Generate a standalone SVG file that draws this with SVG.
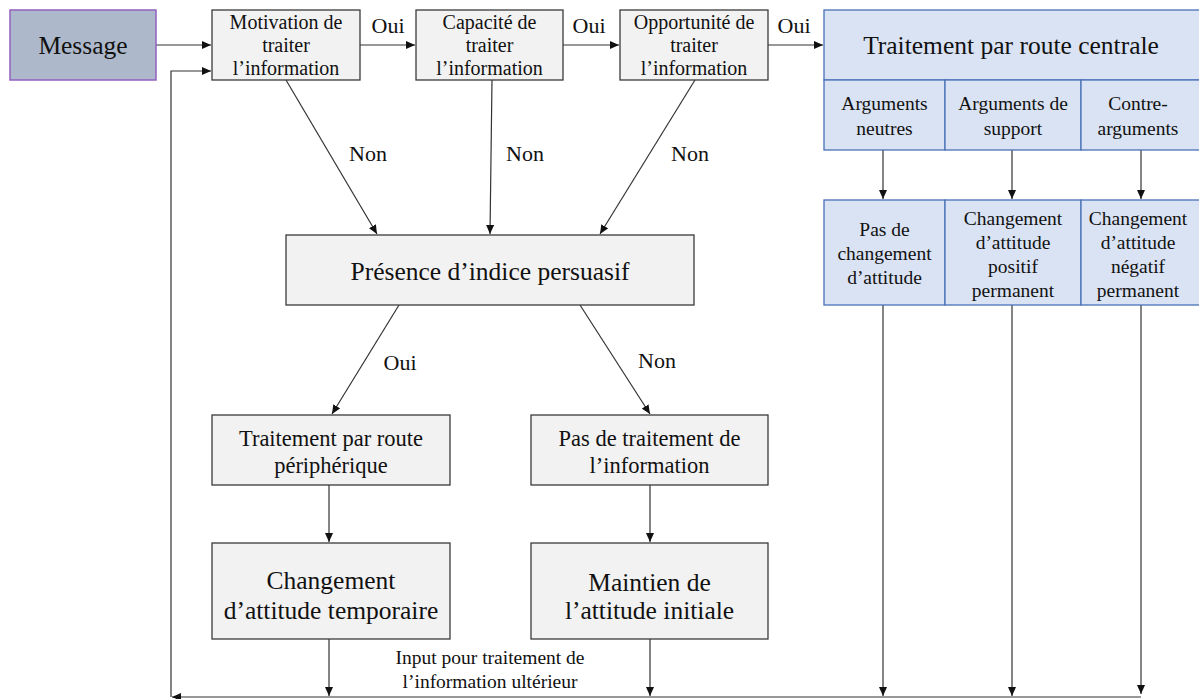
<svg xmlns="http://www.w3.org/2000/svg" width="1199" height="699" viewBox="0 0 1199 699" font-family="'Liberation Serif', 'DejaVu Serif', serif">
  <defs>
    <marker id="arrow" markerUnits="userSpaceOnUse" markerWidth="10" markerHeight="8" refX="9" refY="4" orient="auto">
      <path d="M0,0 L9,4 L0,8 Z" fill="#111"/>
    </marker>
    <style>
      text { font-family: 'Liberation Serif', 'DejaVu Serif', serif; fill: #111; text-anchor: middle; }
      .gray { fill: #f2f2f2; stroke: #3a3a3a; stroke-width: 1.3; }
      .blue { fill: #dae3f3; stroke: #4a72b8; stroke-width: 1.3; }
      .msg { fill: #adb9ca; stroke: #9361c0; stroke-width: 1.5; }
      .edge { fill: none; stroke: #333; stroke-width: 1.2; }
      .s20 { font-size: 20px; }
      .s19 { font-size: 19.5px; }
      .s22 { font-size: 22.5px; }
      .s25 { font-size: 25.5px; }
      .lab { font-size: 22px; }
    </style>
  </defs>

  <!-- connectors -->
  <g id="connectors">
    <line class="edge" x1="156" y1="45" x2="211" y2="45" marker-end="url(#arrow)"/>
    <line class="edge" x1="360" y1="45" x2="415" y2="45" marker-end="url(#arrow)"/>
    <line class="edge" x1="563" y1="45" x2="619" y2="45" marker-end="url(#arrow)"/>
    <line class="edge" x1="768" y1="45" x2="823" y2="45" marker-end="url(#arrow)"/>

    <line class="edge" x1="286" y1="80" x2="377" y2="234" marker-end="url(#arrow)"/>
    <line class="edge" x1="492" y1="80" x2="490" y2="234" marker-end="url(#arrow)"/>
    <line class="edge" x1="695" y1="80" x2="600" y2="234" marker-end="url(#arrow)"/>

    <line class="edge" x1="399" y1="305" x2="332" y2="414" marker-end="url(#arrow)"/>
    <line class="edge" x1="580" y1="305" x2="650" y2="414" marker-end="url(#arrow)"/>

    <line class="edge" x1="329" y1="485" x2="329" y2="542" marker-end="url(#arrow)"/>
    <line class="edge" x1="650" y1="485" x2="650" y2="542" marker-end="url(#arrow)"/>

    <line class="edge" x1="883" y1="150" x2="883" y2="199" marker-end="url(#arrow)"/>
    <line class="edge" x1="1012" y1="150" x2="1012" y2="199" marker-end="url(#arrow)"/>
    <line class="edge" x1="1141" y1="150" x2="1141" y2="199" marker-end="url(#arrow)"/>

    <!-- outcomes feed the return line -->
    <line class="edge" x1="329" y1="639" x2="329" y2="696" marker-end="url(#arrow)"/>
    <line class="edge" x1="650" y1="639" x2="650" y2="696" marker-end="url(#arrow)"/>
    <line class="edge" x1="883" y1="305" x2="883" y2="696" marker-end="url(#arrow)"/>
    <line class="edge" x1="1012" y1="305" x2="1012" y2="696" marker-end="url(#arrow)"/>
    <line class="edge" x1="1141" y1="305" x2="1141" y2="694" marker-end="url(#arrow)"/>

    <!-- return line back to motivation -->
    <line class="edge" x1="1141" y1="697" x2="172" y2="697" marker-end="url(#arrow)"/>
    <polyline class="edge" points="171,697 171,71 211,71" marker-end="url(#arrow)"/>

    <text class="lab" x="388" y="33">Oui</text>
    <text class="lab" x="589" y="33">Oui</text>
    <text class="lab" x="794" y="33">Oui</text>
    <text class="lab" x="368" y="161">Non</text>
    <text class="lab" x="525" y="161">Non</text>
    <text class="lab" x="690" y="161">Non</text>
    <text class="lab" x="400" y="370">Oui</text>
    <text class="lab" x="657" y="368">Non</text>
    <text class="s19" x="490" y="664">Input pour traitement de</text>
    <text class="s19" x="490" y="688">l’information ultérieur</text>
  </g>

  <g id="message">
    <rect class="msg" x="10" y="10" width="146" height="70"/>
    <text class="s25" x="83" y="54">Message</text>
  </g>

  <g id="motivation">
    <rect class="gray" x="212" y="10" width="148" height="70"/>
    <text class="s20" x="286" y="29">Motivation de</text>
    <text class="s20" x="286" y="52">traiter</text>
    <text class="s20" x="286" y="75">l’information</text>
  </g>

  <g id="capacite">
    <rect class="gray" x="416" y="10" width="147" height="70"/>
    <text class="s20" x="489.5" y="29">Capacité de</text>
    <text class="s20" x="489.5" y="52">traiter</text>
    <text class="s20" x="489.5" y="75">l’information</text>
  </g>

  <g id="opportunite">
    <rect class="gray" x="620" y="10" width="148" height="70"/>
    <text class="s20" x="694" y="29">Opportunité de</text>
    <text class="s20" x="694" y="52">traiter</text>
    <text class="s20" x="694" y="75">l’information</text>
  </g>

  <g id="route-centrale">
    <rect class="blue" x="824" y="10" width="380" height="70"/>
    <text class="s25" x="1011" y="54">Traitement par route centrale</text>
  </g>

  <g id="arguments">
    <rect class="blue" x="824" y="80" width="121" height="70"/>
    <rect class="blue" x="945" y="80" width="136" height="70"/>
    <rect class="blue" x="1081" y="80" width="123" height="70"/>
    <text class="s19" x="884.5" y="110">Arguments</text>
    <text class="s19" x="884.5" y="135">neutres</text>
    <text class="s19" x="1013" y="110">Arguments de</text>
    <text class="s19" x="1013" y="135">support</text>
    <text class="s19" x="1138" y="110">Contre-</text>
    <text class="s19" x="1138" y="135">arguments</text>
  </g>

  <g id="resultats-centraux">
    <rect class="blue" x="824" y="200" width="121" height="105"/>
    <rect class="blue" x="945" y="200" width="136" height="105"/>
    <rect class="blue" x="1081" y="200" width="123" height="105"/>
    <text class="s19" x="884.5" y="236">Pas de</text>
    <text class="s19" x="884.5" y="260">changement</text>
    <text class="s19" x="884.5" y="284">d’attitude</text>
    <text class="s19" x="1013" y="225">Changement</text>
    <text class="s19" x="1013" y="249">d’attitude</text>
    <text class="s19" x="1013" y="273">positif</text>
    <text class="s19" x="1013" y="297">permanent</text>
    <text class="s19" x="1138" y="225">Changement</text>
    <text class="s19" x="1138" y="249">d’attitude</text>
    <text class="s19" x="1138" y="273">négatif</text>
    <text class="s19" x="1138" y="297">permanent</text>
  </g>

  <g id="indice">
    <rect class="gray" x="286" y="235" width="408" height="70"/>
    <text class="s25" x="490" y="280">Présence d’indice persuasif</text>
  </g>

  <g id="route-peripherique">
    <rect class="gray" x="212" y="415" width="238" height="70"/>
    <text class="s22" x="331" y="446">Traitement par route</text>
    <text class="s22" x="331" y="473">périphérique</text>
  </g>

  <g id="pas-de-traitement">
    <rect class="gray" x="531" y="415" width="237" height="70"/>
    <text class="s22" x="649.5" y="446">Pas de traitement de</text>
    <text class="s22" x="649.5" y="473">l’information</text>
  </g>

  <g id="changement-temporaire">
    <rect class="gray" x="212" y="543" width="238" height="96"/>
    <text class="s25" x="331" y="589">Changement</text>
    <text class="s25" x="331" y="619">d’attitude temporaire</text>
  </g>

  <g id="maintien">
    <rect class="gray" x="531" y="543" width="237" height="96"/>
    <text class="s25" x="649.5" y="591">Maintien de</text>
    <text class="s25" x="649.5" y="619">l’attitude initiale</text>
  </g>
</svg>
